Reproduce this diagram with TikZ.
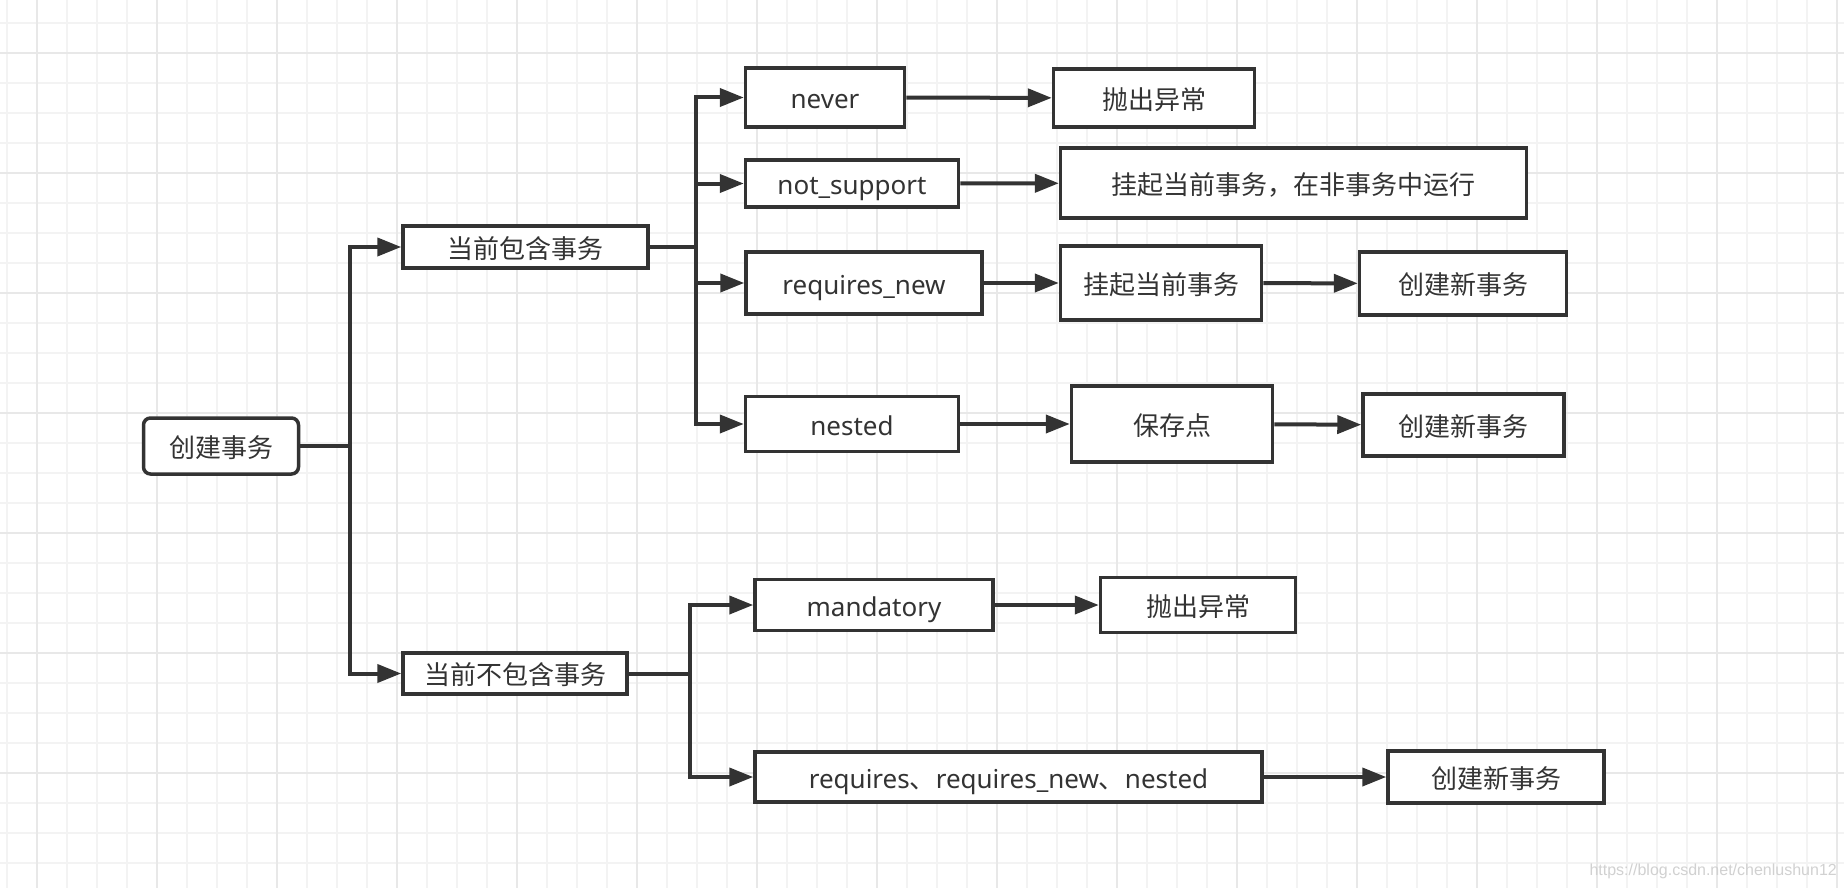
\documentclass[tikz,border=0pt]{standalone}
\usepackage{fontspec}
\setmainfont{Noto Sans}
\newfontfamily\cjk{Noto Sans CJK SC}
\newfontfamily\wm{Liberation Sans}
\usetikzlibrary{arrows.meta}
\definecolor{ink}{HTML}{333333}
\definecolor{gridminor}{HTML}{F3F3F3}
\definecolor{gridmajor}{HTML}{E8E8E8}
\begin{document}
\begin{tikzpicture}[x=1pt,y=-1pt,
  font=\fontsize{26}{30}\selectfont,
  box/.style={draw=ink, line width=3.5pt, fill=white, text=ink, inner sep=0pt, text height=22.5pt, text depth=0pt},
  conn/.style={draw=ink, line width=4pt, -{Triangle[length=24pt,width=18pt]}},
  plain/.style={draw=ink, line width=4pt}]
\useasboundingbox (0,0) rectangle (1844,888);
\fill[white] (0,0) rectangle (1844,888);
% grid
\foreach \i in {0,...,61} {\draw[gridminor, line width=2pt] ({7+30*\i},0) -- ({7+30*\i},888);}
\foreach \i in {0,...,29} {\draw[gridminor, line width=2pt] (0,{23+30*\i}) -- (1844,{23+30*\i});}
\foreach \i in {0,...,15} {\draw[gridmajor, line width=2pt] ({37+120*\i},0) -- ({37+120*\i},888);}
\foreach \i in {0,...,7} {\draw[gridmajor, line width=2pt] (0,{53+120*\i}) -- (1844,{53+120*\i});}
% nodes
\node[box, rounded corners=7pt, minimum width=155pt, minimum height=56pt] (root) at (221,446) {\cjk 创建事务};
\node[box, minimum width=245pt, minimum height=42pt] (A) at (525.5,247) {\cjk 当前包含事务};
\node[box, minimum width=224pt, minimum height=41pt] (B) at (515,673.5) {\cjk 当前不包含事务};
\node[box, minimum width=159pt, minimum height=59pt] (never) at (825,97.5) {never};
\node[box, minimum width=201pt, minimum height=58pt] (e1) at (1154,98) {\cjk 抛出异常};
\node[box, minimum width=213pt, minimum height=47pt] (nots) at (852,183.5) {not\_support};
\node[box, minimum width=466pt, minimum height=70pt] (s1) at (1293.6,183) {\cjk 挂起当前事务，在非事务中运行};
\node[box, minimum width=236pt, minimum height=62pt] (rn) at (864,283) {requires\_new};
\node[box, minimum width=201pt, minimum height=74pt] (s2) at (1161,283) {\cjk 挂起当前事务};
\node[box, minimum width=207pt, minimum height=63pt] (c1) at (1463,283.5) {\cjk 创建新事务};
\node[box, minimum width=213pt, minimum height=55pt] (nested) at (852,424) {nested};
\node[box, minimum width=201pt, minimum height=76pt] (sp) at (1172,424) {\cjk 保存点};
\node[box, minimum width=201pt, minimum height=62pt] (c2) at (1463.5,425) {\cjk 创建新事务};
\node[box, minimum width=238pt, minimum height=51pt] (mand) at (874,605) {mandatory};
\node[box, minimum width=195pt, minimum height=55pt] (e2) at (1198,605) {\cjk 抛出异常};
\node[box, minimum width=507pt, minimum height=50pt] (req) at (1008.5,777) {requires{\cjk 、}requires\_new{\cjk 、}nested};
\node[box, minimum width=216pt, minimum height=52pt] (c3) at (1496,777) {\cjk 创建新事务};
% junctions
\coordinate (j0) at (350,446);
\coordinate (jA) at (696,247);
\coordinate (jB) at (690,673.5);
% connectors
\draw[plain] (root.east) -- (j0);
\draw[conn] (j0) |- (A.west);
\draw[conn] (j0) |- (B.west);
\draw[plain] (A.east) -- (jA);
\draw[conn] (jA) |- (never.west);
\draw[conn] (jA) |- (nots.west);
\draw[conn] (jA) |- (rn.west);
\draw[conn] (jA) |- (nested.west);
\draw[plain] (B.east) -- (jB);
\draw[conn] (jB) |- (mand.west);
\draw[conn] (jB) |- (req.west);
\draw[conn] (never) -- (e1);
\draw[conn] (nots) -- (s1);
\draw[conn] (rn) -- (s2);
\draw[conn] (s2) -- (c1);
\draw[conn] (nested) -- (sp);
\draw[conn] (sp) -- (c2);
\draw[conn] (mand) -- (e2);
\draw[conn] (req) -- (c3);
% watermark
\node[anchor=east, text=black!18, font=\wm\fontsize{16}{19}\selectfont, inner sep=0pt] (wmark) at (1837,871) {https://blog.csdn.net/chenlushun12};
\end{tikzpicture}
\end{document}
